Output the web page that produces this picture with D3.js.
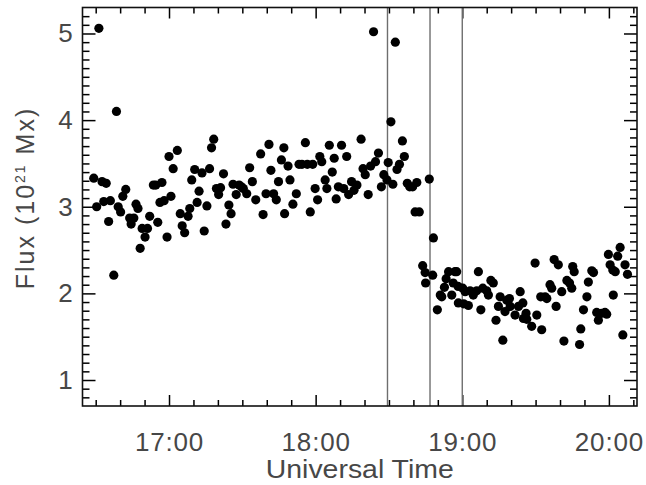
<!DOCTYPE html>
<html>
<head>
<meta charset="utf-8">
<script src="https://cdn.jsdelivr.net/npm/d3@7"></script>
<style>
  body { margin: 0; background: #fff; }
  svg { display: block; }
</style>
</head>
<body>
<div id="chart"></div>
<script>
// times are minutes after 16:00 UT, flux in 10^21 Mx
const preTime = [29.2, 30.4, 31.3, 32.6, 33.3, 34.3, 35.3, 36.0, 37.4, 38.5, 39.2, 40.2, 41.1, 42.3, 43.9, 44.5,
  45.6, 46.5, 47.3, 48.2, 49.0, 50.2, 51.2, 52.1, 53.6, 54.6, 55.4, 56.3, 57.1, 58.0, 59.2, 60.0, 60.8, 61.7,
  63.4, 64.6, 65.4, 66.4, 67.8, 68.5, 69.3, 70.5, 71.5, 72.3, 73.5, 74.4, 75.5, 76.6, 77.4, 78.3, 79.4, 80.3,
  81.1, 82.3, 83.3, 84.5, 85.4, 86.2, 87.5, 88.7, 89.6, 90.4, 91.8, 93.0, 94.1, 95.5, 97.5, 98.5, 99.7, 100.9,
  101.7, 102.8, 103.9, 104.8, 106.0, 107.0, 107.3, 108.7, 109.5, 110.7, 112.1, 113.2, 114.4, 115.8, 116.6,
  117.8, 118.8, 119.8, 120.8, 121.7, 122.5, 123.9, 124.6, 125.6, 126.8, 127.6, 128.4, 129.3, 130.6, 131.5,
  132.7, 133.5, 134.7, 135.7, 136.9, 138.6, 139.4, 140.3, 141.5, 142.5, 143.7, 144.5, 145.7, 146.9, 147.9,
  149.2, 149.7, 150.8, 151.6, 152.6, 153.3, 154.3, 155.5, 156.3, 157.5, 158.5, 159.7, 160.7, 161.4, 162.4, 166.5];
const preFlux = [3.33, 3.00, 5.06, 3.29, 3.06, 3.27, 2.83, 3.07, 2.21, 4.10, 3.00, 2.94, 3.12, 3.20, 2.87, 2.80,
  2.87, 3.03, 2.98, 2.52, 2.75, 2.65, 2.75, 2.89, 3.25, 3.25, 2.82, 3.05, 3.28, 3.07, 2.65, 3.58, 3.12, 3.44,
  3.65, 2.92, 2.78, 2.70, 2.89, 2.98, 3.31, 3.43, 3.05, 3.18, 3.39, 2.72, 3.01, 3.44, 3.68, 3.78, 3.21, 3.14,
  3.22, 3.38, 2.80, 3.02, 2.92, 3.26, 3.14, 3.25, 3.23, 3.21, 3.15, 3.45, 3.29, 3.08, 3.61, 2.91, 3.15, 3.72,
  3.42, 3.15, 3.08, 3.29, 3.54, 3.68, 2.92, 3.47, 3.31, 3.03, 3.15, 3.49, 3.49, 3.74, 3.49,
  2.94, 3.49, 3.21, 3.08, 3.58, 3.52, 3.31, 3.21, 3.71, 3.40, 3.56, 3.09, 3.23, 3.71, 3.21,
  3.58, 3.14, 3.29, 3.19, 3.25, 3.78, 3.44, 3.37, 3.14, 3.47, 5.02, 3.52, 3.62, 3.23, 3.37,
  3.31, 3.51, 3.98, 3.26, 4.90, 3.43, 3.49, 3.76, 3.58, 3.27, 3.23, 3.23, 2.94, 3.28, 2.94, 3.32];

const postTime = [163.8, 164.8, 165.0, 167.9, 168.2, 169.8, 171.0, 171.6, 172.7, 173.4, 174.4, 175.7, 176.3,
  177.0, 177.7, 178.3, 178.4, 180.2, 180.6, 181.2, 182.5, 183.2, 184.5, 185.9, 186.6, 187.6, 188.4, 190.0,
  190.7, 191.7, 192.7, 193.8, 194.8, 195.5, 196.6, 197.5, 198.2, 199.3, 199.6, 201.6, 203.0, 203.7, 204.8,
  205.0, 206.1, 206.4, 208.4, 209.8, 210.5, 212.1, 212.5, 213.9, 214.6, 215.9, 216.6, 217.6, 218.4, 219.3,
  220.7, 221.6, 222.8, 223.9, 224.8, 225.2, 225.8, 228.0, 228.5, 229.6, 231.0, 231.6, 233.0, 233.7, 235.0,
  235.7, 237.0, 238.4, 239.1, 239.8, 240.5, 241.6, 241.8, 242.6, 243.6, 244.6, 245.7, 246.6, 247.6];
const postFlux = [2.32, 2.24, 2.12, 2.21, 2.64, 1.81, 1.98, 1.96, 2.07, 2.17, 2.25, 1.98, 2.12,
  2.25, 2.25, 2.08, 1.89, 2.06, 1.88, 2.02, 1.86, 2.03, 1.98, 2.03, 2.25, 1.81, 2.06, 2.03,
  1.98, 2.15, 2.12, 1.69, 1.85, 1.96, 1.46, 1.79, 1.92, 1.94, 1.85, 1.75, 1.85, 2.02, 1.89,
  1.71, 1.77, 1.70, 1.62, 2.35, 1.75, 1.96, 1.58, 1.96, 1.94, 2.10, 2.06, 2.39, 1.85, 2.33,
  2.02, 1.45, 2.15, 2.12, 2.06, 2.31, 2.25, 1.41, 1.59, 1.81, 1.96, 2.13, 2.26, 2.24, 1.78,
  1.69, 1.77, 1.78, 1.76, 2.45, 2.33, 2.27, 1.98, 2.25, 2.43, 2.53, 1.52, 2.33, 2.22];

const eventTime = [149.4, 166.8, 180];          // vertical marker lines
const xMajor = [60, 120, 180, 240];
const xLabels = ['17:00', '18:00', '19:00', '20:00'];
const yMajor = [1, 2, 3, 4, 5];

const W = 646, H = 485;
const margin = { top: 7.5, right: 9, bottom: 79, left: 82.5 };
const w = W - margin.left - margin.right;
const h = H - margin.top - margin.bottom;

const points = preTime.map((t, i) => ({ t, v: preFlux[i] }))
  .concat(postTime.map((t, i) => ({ t, v: postFlux[i] })));

const x = d3.scaleLinear().domain([24.6, 251.5]).range([0, w]);
const y = d3.scaleLinear().domain([0.7, 5.3]).range([h, 0]);

const svg = d3.select('#chart').append('svg')
  .attr('width', W).attr('height', H)
  .style('background-color', '#ffffff');

const g = svg.append('g').attr('transform', `translate(${margin.left},${margin.top})`);

const font = '"Liberation Sans", Arial, sans-serif';
const xMinor = d3.range(30, 251, 10).filter(d => !xMajor.includes(d));
const yMinor = d3.range(8, 53).map(d => d / 10).filter(d => !yMajor.includes(d));

function styleAxis(sel) {
  sel.select('.domain').remove();
  sel.selectAll('.tick line').attr('stroke', '#000').attr('stroke-width', 1.5);
  sel.selectAll('.tick text').attr('fill', '#474747').style('font-family', font)
    .style('font-size', '26px').style('letter-spacing', '0.8px');
}

// bottom
g.append('g').attr('transform', `translate(0,${h})`)
  .call(d3.axisBottom(x).tickValues(xMinor).tickSize(-6).tickFormat(''))
  .call(styleAxis);
g.append('g').attr('transform', `translate(0,${h})`)
  .call(d3.axisBottom(x).tickValues(xMajor).tickSizeInner(-11).tickSizeOuter(0).tickPadding(27)
    .tickFormat((d, i) => xLabels[i]))
  .call(styleAxis);
// top
g.append('g')
  .call(d3.axisTop(x).tickValues(xMinor).tickSize(-6).tickFormat(''))
  .call(styleAxis);
g.append('g')
  .call(d3.axisTop(x).tickValues(xMajor).tickSize(-11).tickFormat(''))
  .call(styleAxis);
// left
g.append('g')
  .call(d3.axisLeft(y).tickValues(yMinor).tickSize(-7).tickFormat(''))
  .call(styleAxis);
g.append('g')
  .call(d3.axisLeft(y).tickValues(yMajor).tickSizeInner(-13).tickSizeOuter(0).tickPadding(9)
    .tickFormat(d3.format('d')))
  .call(styleAxis);
// right
g.append('g').attr('transform', `translate(${w},0)`)
  .call(d3.axisRight(y).tickValues(yMinor).tickSize(-7).tickFormat(''))
  .call(styleAxis);
g.append('g').attr('transform', `translate(${w},0)`)
  .call(d3.axisRight(y).tickValues(yMajor).tickSize(-13).tickFormat(''))
  .call(styleAxis);

// event lines
g.append('g').selectAll('line')
  .data(eventTime)
  .join('line')
  .attr('x1', d => x(d)).attr('x2', d => x(d))
  .attr('y1', 0).attr('y2', h)
  .attr('stroke', '#6e6e6e')
  .attr('stroke-width', 1.4);

// points
g.append('g').selectAll('circle')
  .data(points)
  .join('circle')
  .attr('cx', d => x(d.t))
  .attr('cy', d => y(d.v))
  .attr('r', 4.6)
  .attr('fill', '#000');

// frame
g.append('rect')
  .attr('width', w).attr('height', h)
  .attr('fill', 'none')
  .attr('stroke', '#111')
  .attr('stroke-width', 1.6);

// titles
svg.append('text')
  .attr('x', margin.left + w / 2).attr('y', 478)
  .attr('text-anchor', 'middle')
  .attr('fill', '#474747')
  .attr('textLength', 188).attr('lengthAdjust', 'spacingAndGlyphs')
  .style('font-family', font).style('font-size', '25px')
  .text('Universal Time');

const yt = svg.append('text')
  .attr('transform', 'translate(34,198) rotate(-90)')
  .attr('text-anchor', 'middle')
  .attr('fill', '#474747')
  .style('font-family', font).style('font-size', '25px')
  .style('letter-spacing', '2px');
yt.append('tspan').text('Flux  (10');
yt.append('tspan').attr('dy', -9).style('font-size', '14px').text('21');
yt.append('tspan').attr('dy', 9).text(' Mx)');
</script>
</body>
</html>
